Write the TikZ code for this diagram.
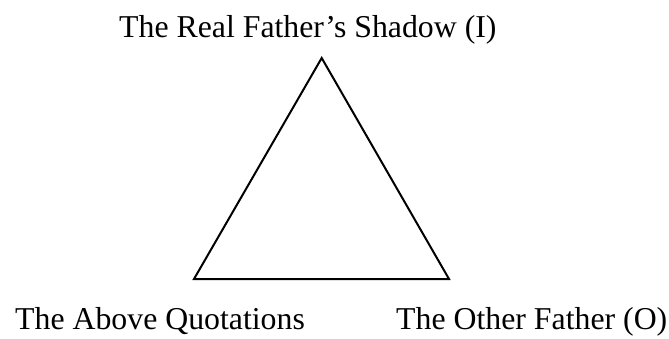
\documentclass[tikz,border=0pt]{standalone}
\usepackage{fontspec}
\setmainfont{Liberation Serif}
\begin{document}
\begin{tikzpicture}[x=1pt,y=1pt,
  lbl/.style={inner sep=0pt,anchor=base west,font=\fontsize{31.8}{38}\selectfont},
  tri/.style={draw=black,line width=2pt,line join=miter}]
\useasboundingbox (0,0) rectangle (669,338);
\coordinate (apex) at (321.7,280);
\coordinate (bl) at (194,59);
\coordinate (br) at (449,59);
\draw[tri] (apex) -- (bl) -- (br) -- cycle;
\node[lbl] (top) at (119,300) {The Real Father’s Shadow (I)};
\node[lbl] (left) at (15,9) {The Above Quotations};
\node[lbl] (right) at (396,9) {The Other Father (O)};
\end{tikzpicture}
\end{document}
